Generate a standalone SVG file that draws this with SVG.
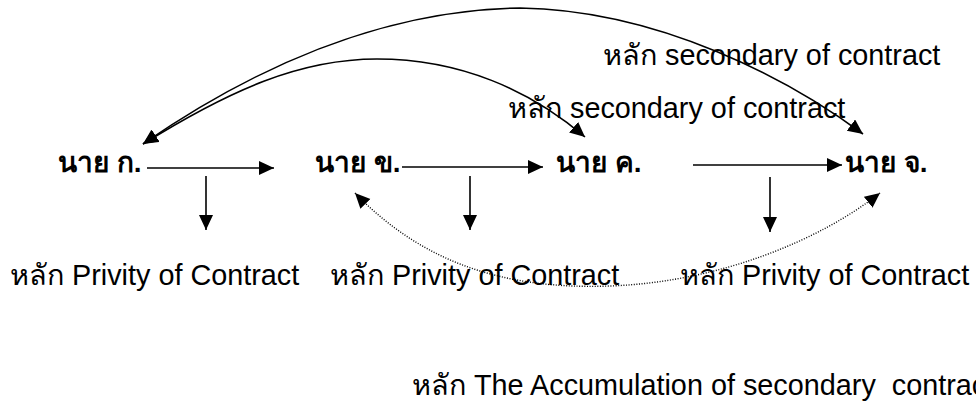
<svg xmlns="http://www.w3.org/2000/svg" width="976" height="403" viewBox="0 0 976 403">
<style>
  .node { font-family: "Liberation Sans", "Noto Sans", sans-serif; font-size: 28px; font-weight: bold; fill: #000; }
  .lbl { font-family: "Liberation Sans", "Noto Sans", sans-serif; font-size: 28.8px; fill: #000; }
  .ln { fill: none; stroke: #000; stroke-width: 1.6; }
  .dot { fill: none; stroke: #000; stroke-width: 1.4; stroke-dasharray: 1 1.6; }
</style>
<defs>
  <marker id="ah" markerUnits="userSpaceOnUse" markerWidth="16" markerHeight="15" refX="15" refY="7" orient="auto-start-reverse">
    <path d="M0,0 L15,7 L0,14 z" fill="#000"/>
  </marker>
</defs>
<rect width="976" height="403" fill="#fff"/>
<g id="connectors">
  <line class="ln" x1="147" y1="168" x2="274" y2="168" marker-end="url(#ah)"/>
  <line class="ln" x1="402" y1="167" x2="543" y2="167" marker-end="url(#ah)"/>
  <line class="ln" x1="693" y1="165" x2="842" y2="165" marker-end="url(#ah)"/>
  <line class="ln" x1="206" y1="176" x2="206" y2="230" marker-end="url(#ah)"/>
  <line class="ln" x1="470" y1="176" x2="470" y2="230" marker-end="url(#ah)"/>
  <line class="ln" x1="770" y1="177" x2="770" y2="232" marker-end="url(#ah)"/>
  <path class="ln" d="M143,144 C250,70 380,10 520,8 C660,10 790,80 863,134" marker-start="url(#ah)" marker-end="url(#ah)"/>
  <path class="ln" d="M143,144 C230,90 300,59 377,59 C460,59 530,90 585,137" marker-start="url(#ah)" marker-end="url(#ah)"/>
  <path class="dot" d="M355,193 C420,260 500,290 610,286 C720,282 820,240 880,193" marker-start="url(#ah)" marker-end="url(#ah)"/>
</g>
<g id="node-k"><text class="node" x="58" y="172">นาย ก.</text></g>
<g id="node-kh"><text class="node" x="315" y="172">นาย ข.</text></g>
<g id="node-kho"><text class="node" x="556" y="172">นาย ค.</text></g>
<g id="node-ch"><text class="node" x="845" y="172">นาย จ.</text></g>
<g id="privity-1"><text class="lbl" x="10" y="285">หลัก Privity of Contract</text></g>
<g id="privity-2"><text class="lbl" x="330" y="285">หลัก Privity of Contract</text></g>
<g id="privity-3"><text class="lbl" x="680" y="285">หลัก Privity of Contract</text></g>
<g id="secondary-1"><text class="lbl" x="603" y="65">หลัก secondary of contract</text></g>
<g id="secondary-2"><text class="lbl" x="508" y="118">หลัก secondary of contract</text></g>
<g id="accumulation"><text class="lbl" x="412" y="395" xml:space="preserve">หลัก The Accumulation of secondary  contract</text></g>
</svg>
